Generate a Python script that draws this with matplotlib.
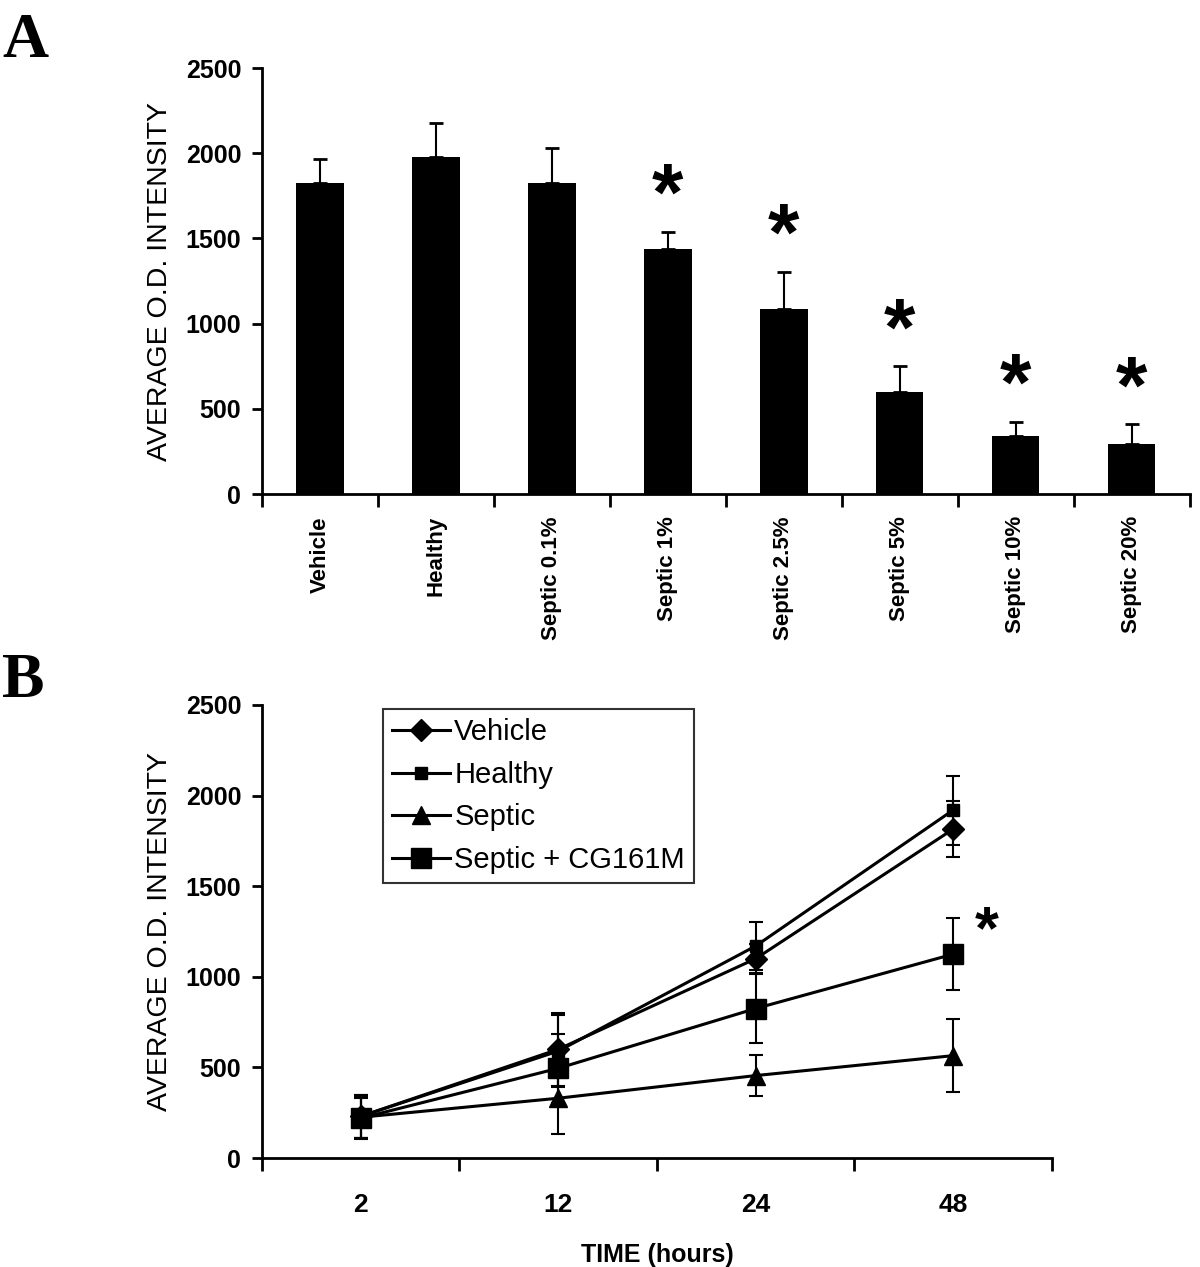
import matplotlib
matplotlib.use("Agg")
import matplotlib.pyplot as plt
from matplotlib.lines import Line2D
import numpy as np

plt.rcParams['font.family'] = ['Liberation Sans', 'DejaVu Sans']

# Panel A data
cats_a = ["Vehicle", "Healthy", "Septic 0.1%", "Septic 1%", "Septic 2.5%",
          "Septic 5%", "Septic 10%", "Septic 20%"]
vals_a = [1825, 1975, 1825, 1435, 1085, 600, 340, 295]
errs_a = [140, 205, 205, 105, 220, 150, 85, 115]
sig_a = [False, False, False, True, True, True, True, True]
yticks = [0, 500, 1000, 1500, 2000, 2500]

# Panel B data
times = ["2", "12", "24", "48"]
vehicle = [230, 600, 1100, 1815]
vehicle_err = [120, 200, 80, 155]
healthy = [230, 590, 1170, 1920]
healthy_err = [120, 200, 130, 190]
septic = [225, 330, 455, 565]
septic_err = [120, 200, 115, 200]
cg = [220, 495, 825, 1125]
cg_err = [110, 190, 190, 200]

fig = plt.figure(figsize=(12, 12.67), dpi=100)


def style_ticklabels(ax, size):
    for lab in ax.get_yticklabels():
        lab.set_fontweight('bold')
        lab.set_fontsize(size)


# ---- Panel A ----
axA = fig.add_axes([0.2183, 0.6101, 0.773, 0.3362])
x = np.arange(len(cats_a))
axA.bar(x, vals_a, width=0.41, color='black', zorder=2)
axA.errorbar(x, vals_a, yerr=[np.zeros(len(vals_a)), errs_a], fmt='none',
             ecolor='black', elinewidth=1.5, capsize=5, capthick=2, zorder=1)
for xi, v, e, s in zip(x, vals_a, errs_a, sig_a):
    if s:
        axA.text(xi, v + e - 30, "*", ha='center', va='bottom', fontsize=58,
                 fontweight='bold')
axA.set_xlim(-0.5, len(cats_a) - 0.5)
axA.set_ylim(0, 2500)
axA.set_yticks(yticks)
axA.tick_params(axis='y', width=2, length=7, direction='out', pad=8)
style_ticklabels(axA, 18)
axA.set_xticks(np.arange(-0.5, len(cats_a), 1.0))
axA.set_xticklabels([])
axA.tick_params(axis='x', width=2, length=9, direction='out')
axA.set_xticks(x, minor=True)
axA.set_xticklabels(cats_a, minor=True, rotation=90, fontsize=16,
                    fontweight='bold')
axA.tick_params(axis='x', which='minor', length=0, pad=16)
for sp in ['top', 'right']:
    axA.spines[sp].set_visible(False)
for sp in ['left', 'bottom']:
    axA.spines[sp].set_linewidth(2)
axA.set_ylabel("AVERAGE O.D. INTENSITY", fontsize=20.5, labelpad=9)

# ---- Panel B ----
axB = fig.add_axes([0.2183, 0.0860, 0.6583, 0.3576])
xb = np.arange(len(times))
series = [
    ("Vehicle", vehicle, vehicle_err, 'D', 11),
    ("Healthy", healthy, healthy_err, 's', 9),
    ("Septic", septic, septic_err, '^', 13),
    ("Septic + CG161M", cg, cg_err, 's', 15),
]
handles = []
for name, vals, errs, mk, ms in series:
    axB.errorbar(xb, vals, yerr=errs, color='black', marker=mk, markersize=ms,
                 linewidth=2.2, elinewidth=1.5, capsize=5, capthick=1.5)
    handles.append(Line2D([], [], color='black', marker=mk, markersize=ms,
                          linewidth=2.2, label=name))
axB.text(3 + 0.17, cg[3] - 40, "*", ha='center', va='bottom', fontsize=44,
         fontweight='bold')
axB.set_xlim(-0.5, len(times) - 0.5)
axB.set_ylim(0, 2500)
axB.set_yticks(yticks)
axB.tick_params(axis='y', width=2, length=7, direction='out', pad=8)
style_ticklabels(axB, 18)
axB.set_xticks(np.arange(-0.5, len(times), 1.0))
axB.set_xticklabels([])
axB.tick_params(axis='x', width=2, length=9, direction='out')
axB.set_xticks(xb, minor=True)
axB.set_xticklabels(times, minor=True, fontsize=19, fontweight='bold')
axB.tick_params(axis='x', which='minor', length=0, pad=25)
for sp in ['top', 'right']:
    axB.spines[sp].set_visible(False)
for sp in ['left', 'bottom']:
    axB.spines[sp].set_linewidth(2)
axB.set_ylabel("AVERAGE O.D. INTENSITY", fontsize=20.5, labelpad=9)
axB.set_xlabel("TIME (hours)", fontsize=18, fontweight='bold', labelpad=19)
leg = axB.legend(handles=handles, loc='upper left',
                 bbox_to_anchor=(0.153, 0.99), fontsize=21,
                 frameon=True, fancybox=False, edgecolor='black',
                 borderaxespad=0, handlelength=2.0, handletextpad=0.15,
                 labelspacing=0.5, borderpad=0.3)
leg.get_frame().set_linewidth(1.5)

fig.text(0.002, 0.99, "A", fontsize=46, fontweight='bold', va='top', ha='left',
         family=['Liberation Serif', 'DejaVu Serif'])
fig.text(0.002, 0.485, "B", fontsize=46, fontweight='bold', va='top', ha='left',
         family=['Liberation Serif', 'DejaVu Serif'])

fig.savefig("out.png", dpi=100, facecolor='white')
